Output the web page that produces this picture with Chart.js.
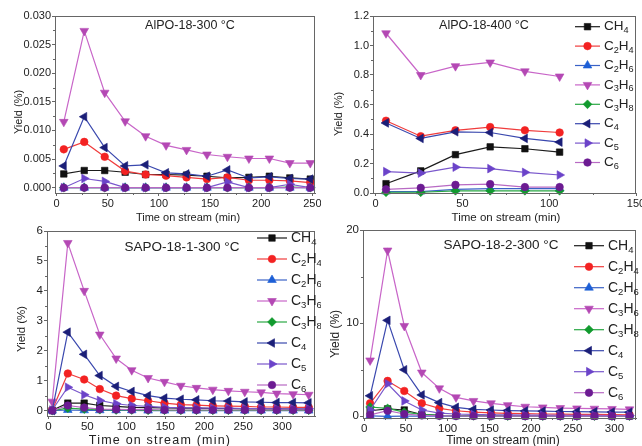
<!DOCTYPE html>
<html>
<head>
<meta charset="utf-8">
<script src="https://cdn.jsdelivr.net/npm/chart.js@4.4.1/dist/chart.umd.min.js"></script>
<style>
  body { margin: 0; background: #fff; }
  .panel { position: absolute; width: 321px; height: 223px; }
</style>
</head>
<body>
<div class="panel" style="left:0;top:0"><canvas id="p1" width="321" height="223"></canvas></div>
<div class="panel" style="left:321px;top:0"><canvas id="p2" width="321" height="223"></canvas></div>
<div class="panel" style="left:0;top:223px"><canvas id="p3" width="321" height="223"></canvas></div>
<div class="panel" style="left:321px;top:223px"><canvas id="p4" width="321" height="223"></canvas></div>
<script>
const species = ['CH4', 'C2H4', 'C2H6', 'C3H6', 'C3H8', 'C4', 'C5', 'C6'];

// AlPO-18 at 300 °C
const alpo300Time = [7, 27, 47, 67, 87, 107, 127, 147, 167, 188, 208, 228, 248];
const alpo300CH4  = [0.0024, 0.0030, 0.0030, 0.0027, 0.0023, 0.0023, 0.0022, 0.0020, 0.0017, 0.0018, 0.0020, 0.0017, 0.0015];
const alpo300C2H4 = [0.0067, 0.0080, 0.0054, 0.0029, 0.0023, 0.0021, 0.0018, 0.0015, 0.0018, 0.0013, 0.0013, 0.0012, 0.0009];
const alpo300C2H6 = [0, 0, 0, 0, 0, 0, 0, 0, 0, 0, 0, 0, 0];
const alpo300C3H6 = [0.0115, 0.0274, 0.0166, 0.0116, 0.0090, 0.0074, 0.0066, 0.0058, 0.0054, 0.0051, 0.0051, 0.0043, 0.0043];
const alpo300C3H8 = [0, 0, 0, 0, 0, 0, 0, 0, 0, 0, 0, 0.0001, 0];
const alpo300C4   = [0.0038, 0.0124, 0.0070, 0.0038, 0.0040, 0.0026, 0.0024, 0.0020, 0.0031, 0.0017, 0.0019, 0.0016, 0.0015];
const alpo300C5   = [0, 0.0016, 0.0011, 0, 0, 0, 0, 0, 0.0010, 0, 0, 0.0006, 0];
const alpo300C6   = [0, 0, 0, 0, 0, 0, 0, 0, 0, 0, 0, 0, 0];
const alpo300XTicks = [0, 50, 100, 150, 200, 250];
const alpo300YTicks = [0, 0.005, 0.010, 0.015, 0.020, 0.025, 0.030];

// AlPO-18 at 400 °C
const alpo400Time = [6, 26, 46, 66, 86, 106];
const alpo400CH4  = [0.063, 0.150, 0.260, 0.313, 0.300, 0.277];
const alpo400C2H4 = [0.490, 0.385, 0.425, 0.447, 0.425, 0.410];
const alpo400C2H6 = [0.010, 0.010, 0.025, 0.030, 0.030, 0.030];
const alpo400C3H6 = [1.083, 0.800, 0.860, 0.885, 0.825, 0.790];
const alpo400C3H8 = [0.005, 0.005, 0.015, 0.015, 0.015, 0.015];
const alpo400C4   = [0.475, 0.370, 0.415, 0.410, 0.370, 0.345];
const alpo400C5   = [0.145, 0.135, 0.175, 0.165, 0.140, 0.122];
const alpo400C6   = [0.025, 0.035, 0.055, 0.060, 0.040, 0.040];
const alpo400XTicks = [0, 50, 100, 150];
const alpo400YTicks = [0, 0.2, 0.4, 0.6, 0.8, 1.0, 1.2];

// SAPO-18-1 at 300 °C
const sapo1Time = [5, 25, 46, 66, 87, 107, 128, 149, 170, 190, 211, 231, 252, 273, 293, 314, 334];
const sapo1CH4  = [0.01, 0.25, 0.25, 0.17, 0.14, 0.11, 0.10, 0.09, 0.08, 0.08, 0.07, 0.07, 0.06, 0.06, 0.06, 0.05, 0.05];
const sapo1C2H4 = [0.02, 1.24, 1.04, 0.72, 0.50, 0.40, 0.33, 0.25, 0.20, 0.18, 0.16, 0.15, 0.14, 0.12, 0.12, 0.11, 0.11];
const sapo1C2H6 = [0.00, 0.02, 0.01, 0.01, 0.01, 0.01, 0.00, 0.00, 0.00, 0.00, 0.00, 0.00, 0.00, 0.00, 0.00, 0.00, 0.00];
const sapo1C3H6 = [0.30, 5.60, 4.00, 2.54, 1.74, 1.35, 1.09, 0.96, 0.83, 0.76, 0.70, 0.66, 0.63, 0.61, 0.57, 0.55, 0.53];
const sapo1C3H8 = [0.00, 0.08, 0.05, 0.03, 0.02, 0.02, 0.01, 0.01, 0.01, 0.01, 0.01, 0.01, 0.01, 0.01, 0.01, 0.01, 0.01];
const sapo1C4   = [0.00, 2.62, 1.88, 1.17, 0.81, 0.64, 0.50, 0.42, 0.38, 0.36, 0.33, 0.32, 0.29, 0.28, 0.27, 0.27, 0.26];
const sapo1C5   = [0.02, 0.78, 0.53, 0.34, 0.23, 0.17, 0.14, 0.11, 0.10, 0.09, 0.08, 0.08, 0.07, 0.07, 0.06, 0.06, 0.06];
const sapo1C6   = [0.00, 0.17, 0.10, 0.05, 0.04, 0.03, 0.03, 0.02, 0.02, 0.02, 0.02, 0.02, 0.02, 0.02, 0.02, 0.02, 0.02];
const sapo1XTicks = [0, 50, 100, 150, 200, 250, 300];
const sapo1YTicks = [0, 1, 2, 3, 4, 5, 6];

// SAPO-18-2 at 300 °C
const sapo2Time = [7, 28, 48, 69, 90, 110, 131, 152, 172, 193, 214, 235, 255, 276, 297, 318];
const sapo2CH4  = [0.60, 0.80, 0.68, 0.20, 0.10, 0.08, 0.07, 0.06, 0.05, 0.05, 0.04, 0.04, 0.04, 0.03, 0.03, 0.03];
const sapo2C2H4 = [1.40, 3.80, 2.72, 1.40, 0.86, 0.60, 0.45, 0.38, 0.32, 0.28, 0.25, 0.23, 0.20, 0.20, 0.18, 0.17];
const sapo2C2H6 = [0.05, 0.00, 0.03, 0.02, 0.02, 0.01, 0.01, 0.01, 0.01, 0.01, 0.01, 0.01, 0.01, 0.01, 0.01, 0.01];
const sapo2C3H6 = [6.00, 17.80, 9.70, 4.70, 3.00, 2.04, 1.65, 1.40, 1.20, 1.03, 0.96, 0.89, 0.85, 0.82, 0.79, 0.75];
const sapo2C3H8 = [1.00, 0.85, 0.45, 0.20, 0.10, 0.06, 0.05, 0.04, 0.03, 0.03, 0.03, 0.02, 0.02, 0.02, 0.02, 0.02];
const sapo2C4   = [2.20, 10.30, 5.00, 2.30, 1.47, 0.97, 0.75, 0.68, 0.62, 0.58, 0.55, 0.52, 0.50, 0.48, 0.46, 0.44];
const sapo2C5   = [0.68, 3.50, 1.65, 0.68, 0.35, 0.25, 0.20, 0.17, 0.15, 0.13, 0.12, 0.11, 0.10, 0.10, 0.09, 0.09];
const sapo2C6   = [0.15, 0.60, 0.25, 0.10, 0.05, 0.04, 0.03, 0.03, 0.03, 0.02, 0.02, 0.02, 0.02, 0.02, 0.02, 0.02];
const sapo2XTicks = [0, 50, 100, 150, 200, 250, 300];
const sapo2YTicks = [0, 10, 20];

const FONT = '"Liberation Sans", Arial, sans-serif';
const AXIS = '#666';
const TEXT = '#222';

// marker shape and colour for each product
const styles = {
  CH4:  { color: '#111111', line: '#1c1c1c', shape: 'rect',     rot: 0,   r: 4.6 },
  C2H4: { color: '#f32222', line: '#f03c3c', shape: 'circle',   rot: 0,   r: 3.8 },
  C2H6: { color: '#1d5fd6', line: '#3a62c6', shape: 'triangle', rot: 0,   r: 5 },
  C3H6: { color: '#b448b4', line: '#c865c8', shape: 'triangle', rot: 180, r: 5 },
  C3H8: { color: '#119a2e', line: '#2aa844', shape: 'rectRot',  rot: 0,   r: 4.4 },
  C4:   { color: '#1b1f78', line: '#3a48ae', shape: 'triangle', rot: 270, r: 5 },
  C5:   { color: '#6b43c9', line: '#7a58cc', shape: 'triangle', rot: 90,  r: 5 },
  C6:   { color: '#6c1b92', line: '#b86ac4', shape: 'circle',   rot: 0,   r: 3.8 }
};

const panels = [
  {
    id: 'p1', title: 'AlPO-18-300 °C', time: alpo300Time,
    series: { CH4: alpo300CH4, C2H4: alpo300C2H4, C2H6: alpo300C2H6, C3H6: alpo300C3H6,
              C3H8: alpo300C3H8, C4: alpo300C4, C5: alpo300C5, C6: alpo300C6 },
    xTicks: alpo300XTicks, yTicks: alpo300YTicks, yDec: 3,
    xMin: -1.6, xMax: 253, yMin: -0.00093, yMax: 0.030,
    area: { l: 55, t: 16, r: 318, b: 193 }, tickSize: 11,
    titleAt: [190, 26, 12.5], yTitleAt: [19, 112, 11], xTitleAt: [188, 218, 11, 0],
    legend: null
  },
  {
    id: 'p2', title: 'AlPO-18-400 °C', time: alpo400Time,
    series: { CH4: alpo400CH4, C2H4: alpo400C2H4, C2H6: alpo400C2H6, C3H6: alpo400C3H6,
              C3H8: alpo400C3H8, C4: alpo400C4, C5: alpo400C5, C6: alpo400C6 },
    xTicks: alpo400XTicks, yTicks: alpo400YTicks, yDec: 1,
    xMin: -1.5, xMax: 150, yMin: 0, yMax: 1.2,
    area: { l: 52, t: 16, r: 315, b: 193 }, tickSize: 11,
    titleAt: [163, 26, 12.5], yTitleAt: [18, 114, 11], xTitleAt: [185, 218, 11.5, 0],
    legend: { x: 254, y: 26.7, dy: 19.4, len: 25, size: 13.5 }
  },
  {
    id: 'p3', title: 'SAPO-18-1-300 °C', time: sapo1Time,
    series: { CH4: sapo1CH4, C2H4: sapo1C2H4, C2H6: sapo1C2H6, C3H6: sapo1C3H6,
              C3H8: sapo1C3H8, C4: sapo1C4, C5: sapo1C5, C6: sapo1C6 },
    xTicks: sapo1XTicks, yTicks: sapo1YTicks, yDec: 0,
    xMin: -1.7, xMax: 342.6, yMin: -0.18, yMax: 6,
    area: { l: 47, t: 8, r: 318, b: 193 }, tickSize: 11.5,
    titleAt: [182, 24.5, 13.5], yTitleAt: [21.5, 106, 11.5], xTitleAt: [160, 218, 12.5, 1.2],
    legend: { x: 257, y: 15, dy: 21, len: 30, size: 14 }
  },
  {
    id: 'p4', title: 'SAPO-18-2-300 °C', time: sapo2Time,
    series: { CH4: sapo2CH4, C2H4: sapo2C2H4, C2H6: sapo2C2H6, C3H6: sapo2C3H6,
              C3H8: sapo2C3H8, C4: sapo2C4, C5: sapo2C5, C6: sapo2C6 },
    xTicks: sapo2XTicks, yTicks: sapo2YTicks, yDec: 0,
    xMin: -1.5, xMax: 326.3, yMin: -0.18, yMax: 20,
    area: { l: 42, t: 7, r: 317, b: 195 }, tickSize: 11.5,
    titleAt: [180, 22, 13.5], yTitleAt: [15, 111, 12], xTitleAt: [182, 218, 12, 0],
    legend: { x: 253, y: 22.7, dy: 21, len: 30, size: 14 }
  }
];

// digits in a formula are drawn as subscripts
function drawFormula(ctx, label, x, y, size) {
  for (const ch of label) {
    const sub = /\d/.test(ch);
    ctx.font = `${sub ? size * 0.68 : size}px ${FONT}`;
    ctx.fillText(ch, x, sub ? y + size * 0.3 : y);
    x += ctx.measureText(ch).width;
  }
}

function marker(ctx, st, x, y) {
  ctx.fillStyle = st.color;
  ctx.strokeStyle = st.color;
  ctx.lineWidth = 0.6;
  Chart.helpers.drawPoint(ctx, { pointStyle: st.shape, rotation: st.rot, radius: st.r, borderWidth: 0.6 }, x, y);
}

// midpoints between major ticks, plus one past the ends if still on the axis
function minorTicks(majors, min, max) {
  const step = majors[1] - majors[0];
  const out = [];
  for (let v = majors[0] - step / 2; v <= max + 1e-12; v += step) {
    if (v >= min - 1e-12) out.push(v);
  }
  return out;
}

function framePlugin(p) {
  return {
    id: 'frame',
    afterDraw(chart) {
      const { ctx, chartArea: a, scales: { x, y } } = chart;
      ctx.save();
      ctx.strokeStyle = AXIS;
      ctx.lineWidth = 1;
      ctx.strokeRect(Math.round(a.left) + 0.5, Math.round(a.top) + 0.5,
                     Math.round(a.right - a.left) - 1, Math.round(a.bottom - a.top));

      // minor ticks
      ctx.beginPath();
      minorTicks(p.xTicks, p.xMin, p.xMax).forEach(v => {
        const px = Math.round(x.getPixelForValue(v)) + 0.5;
        ctx.moveTo(px, a.bottom); ctx.lineTo(px, a.bottom + 2);
      });
      minorTicks(p.yTicks, p.yMin, p.yMax).forEach(v => {
        const py = Math.round(y.getPixelForValue(v)) + 0.5;
        ctx.moveTo(a.left, py); ctx.lineTo(a.left - 2, py);
      });
      ctx.stroke();

      ctx.fillStyle = TEXT;
      ctx.textBaseline = 'middle';
      ctx.textAlign = 'center';
      ctx.font = `${p.titleAt[2]}px ${FONT}`;
      ctx.fillText(p.title, p.titleAt[0], p.titleAt[1]);

      ctx.font = `${p.xTitleAt[2]}px ${FONT}`;
      ctx.letterSpacing = p.xTitleAt[3] + 'px';
      ctx.fillText('Time on stream (min)', p.xTitleAt[0], p.xTitleAt[1]);
      ctx.letterSpacing = '0px';

      ctx.save();
      ctx.translate(p.yTitleAt[0], p.yTitleAt[1]);
      ctx.rotate(-Math.PI / 2);
      ctx.font = `${p.yTitleAt[2]}px ${FONT}`;
      ctx.fillText('Yield (%)', 0, 0);
      ctx.restore();

      if (p.legend) {
        const L = p.legend;
        species.forEach((s, i) => {
          const st = styles[s];
          const ly = L.y + i * L.dy;
          ctx.beginPath();
          ctx.strokeStyle = st.line;
          ctx.lineWidth = 1.2;
          ctx.moveTo(L.x, ly); ctx.lineTo(L.x + L.len, ly);
          ctx.stroke();
          marker(ctx, st, L.x + L.len / 2, ly);
          ctx.fillStyle = TEXT;
          ctx.textAlign = 'left';
          drawFormula(ctx, s, L.x + L.len + 4, ly, L.size);
        });
      }
      ctx.restore();
    }
  };
}

panels.forEach(p => {
  const W = 321, H = 223;
  const scaleBase = (size) => ({
    type: 'linear',
    grid: { drawOnChartArea: false, drawTicks: true, tickLength: 3, color: AXIS, lineWidth: 1 },
    border: { color: AXIS, width: 1 },
    ticks: { color: TEXT, font: { family: FONT, size }, autoSkip: false, maxRotation: 0 }
  });
  const xs = scaleBase(p.tickSize);
  Object.assign(xs, {
    min: p.xMin, max: p.xMax,
    afterBuildTicks: s => { s.ticks = p.xTicks.map(v => ({ value: v })); },
    afterFit: s => { s.height = H - p.area.b; s.paddingLeft = 0; s.paddingRight = 0; }
  });
  xs.ticks.padding = 1;
  xs.ticks.callback = v => String(v);
  const ys = scaleBase(p.tickSize);
  Object.assign(ys, {
    min: p.yMin, max: p.yMax,
    afterBuildTicks: s => { s.ticks = p.yTicks.map(v => ({ value: v })); },
    afterFit: s => { s.width = p.area.l; s.paddingTop = 0; s.paddingBottom = 0; }
  });
  ys.ticks.padding = 1;
  ys.ticks.callback = v => Number(v).toFixed(p.yDec);

  new Chart(document.getElementById(p.id), {
    type: 'line',
    data: {
      datasets: species.map((s, i) => ({
        label: s,
        data: p.series[s].map((v, k) => ({ x: p.time[k], y: v })),
        borderColor: styles[s].line,
        backgroundColor: styles[s].color,
        pointBackgroundColor: styles[s].color,
        pointBorderColor: styles[s].color,
        pointStyle: styles[s].shape,
        pointRotation: styles[s].rot,
        pointRadius: styles[s].r,
        pointBorderWidth: 0.6,
        borderWidth: 1.2,
        tension: 0,
        clip: false,
        order: species.length - i
      }))
    },
    options: {
      responsive: false,
      animation: false,
      devicePixelRatio: 1,
      layout: { padding: { left: 0, top: p.area.t, right: W - p.area.r, bottom: 0 } },
      plugins: { legend: { display: false }, tooltip: { enabled: false } },
      scales: { x: xs, y: ys }
    },
    plugins: [framePlugin(p)]
  });
});
</script>
</body>
</html>
